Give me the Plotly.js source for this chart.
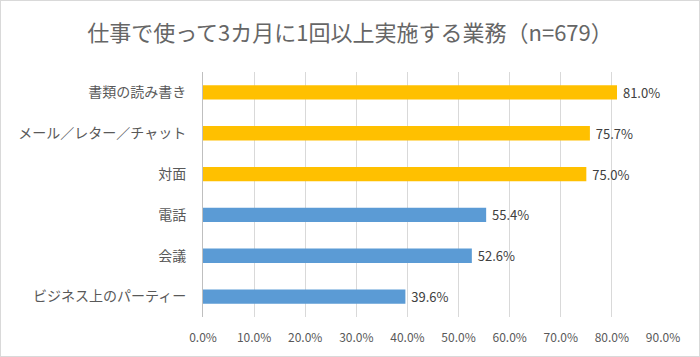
<!DOCTYPE html>
<html><head><meta charset="utf-8">
<script src="https://cdn.plot.ly/plotly-3.0.1.min.js"></script>
<style>html,body{margin:0;padding:0;background:#fff}#chart{width:700px;height:357px;box-sizing:border-box;border:1px solid #d9d9d9}</style>
</head><body><div id="chart"></div>
<script>
const categories = ["書類の読み書き","メール／レター／チャット","対面","電話","会議","ビジネス上のパーティー"];
const values = [81.0, 75.7, 75.0, 55.4, 52.6, 39.6];
const barColors = ["#FFC000","#FFC000","#FFC000","#5B9BD5","#5B9BD5","#5B9BD5"];
const tickVals = [0,10,20,30,40,50,60,70,80,90];
const tickText = tickVals.map(v => v.toFixed(1) + "%");
const font = "Noto Sans CJK JP, Noto Sans, sans-serif";
const trace = {
  type: "bar", orientation: "h",
  x: values, y: categories,
  marker: {color: barColors},
  text: values.map(v => "\u00a0" + v.toFixed(1) + "%"),
  textposition: "outside",
  constraintext: "none",
  textfont: {family: font, size: 13, color: "#404040"},
  cliponaxis: false,
  hoverinfo: "none"
};
const layout = {
  width: 698, height: 355,
  margin: {l: 202, r: 36, t: 71, b: 39, pad: 0},
  paper_bgcolor: "#fff", plot_bgcolor: "#fff",
  title: {text: "仕事で使って3カ月に1回以上実施する業務（n=679）", x: 0.5, xanchor: "center", y: 0.91, yanchor: "middle",
          font: {family: font, size: 22, color: "#666666"}},
  bargap: 0.65,
  showlegend: false,
  xaxis: {range: [0, 90], tickvals: tickVals, ticktext: tickText, showgrid: true, gridcolor: "#d9d9d9", gridwidth: 1,
          zeroline: false, showline: false, ticks: "", ticklabelstandoff: 12,
          tickfont: {family: font, size: 12, color: "#595959"}},
  yaxis: {categoryorder: "array", categoryarray: categories, autorange: "reversed",
          showline: true, linecolor: "#bfbfbf", linewidth: 1, ticks: "", ticklabelstandoff: 13,
          showgrid: false, zeroline: false,
          tickfont: {family: font, size: 14, color: "#595959"}}
};
Plotly.newPlot("chart", [trace], layout, {displayModeBar: false, staticPlot: true});
</script></body></html>
